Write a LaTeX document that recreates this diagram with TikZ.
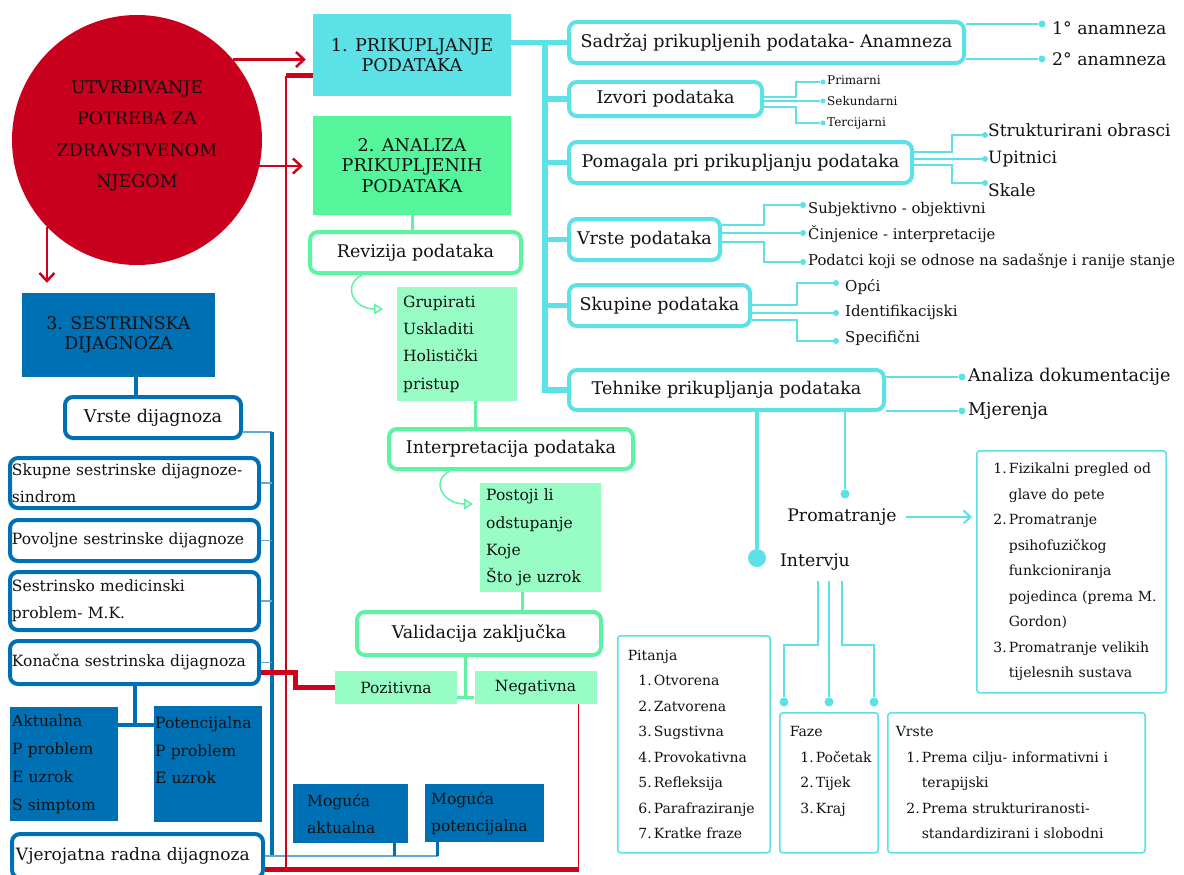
\documentclass[tikz,border=0pt]{standalone}
\usepackage{fontspec}
\setmainfont{DejaVu Serif}
\usetikzlibrary{arrows.meta,calc}

\definecolor{kruzno}{HTML}{C8001E}
\definecolor{crvena}{HTML}{D0021B}
\definecolor{cijan}{HTML}{5CE1E6}
\definecolor{zelena}{HTML}{55F59B}
\definecolor{zelenasvj}{HTML}{98FDC5}
\definecolor{zelenarub}{HTML}{5EF2A3}
\definecolor{plava}{HTML}{0070B4}
\definecolor{plavasvj}{HTML}{62A8DB}

\newcommand{\fsz}[2]{\fontsize{#1}{#2}\selectfont}
\newcommand{\stavka}[2]{\mbox{\makebox[24pt][r]{#1}\kern2pt #2}}
\newcommand{\dalje}[1]{\mbox{\kern26pt #1}}

\tikzset{
  faza/.style={fill=#1, align=center, inner sep=0pt},
  okvir/.style={draw=#1, line width=4pt, rounded corners=8pt, fill=white, inner sep=0pt, font=\fsz{17.5}{21}},
  pbox/.style={okvir=plava, anchor=north west, align=left, inner xsep=2pt, inner ysep=0pt, font=\fsz{15.5}{27}},
  pfill/.style={fill=plava, anchor=north west, align=left, inner xsep=2pt, inner ysep=0pt, font=\fsz{15.5}{27.7}},
  zfill/.style={fill=zelenasvj, anchor=north west, align=left, inner xsep=6pt, inner ysep=0pt, font=\fsz{15.5}{27.3}},
  lbox/.style={draw=cijan, line width=1.6pt, rounded corners=3pt, anchor=north west, align=left, inner ysep=0pt, font=\fsz{14}{25.5}},
  tocka/.style={circle, fill=cijan, inner sep=0pt, minimum size=#1},
  tocka/.default=5pt,
  crtaC/.style={draw=cijan, line width=#1},
  crtaC/.default=1.5pt,
  crtaZ/.style={draw=zelenarub, line width=3pt},
  crtaP/.style={draw=plava, line width=4pt},
  tanaP/.style={draw=plavasvj, line width=1.2pt},
  strelica/.style={draw=crvena, line width=2.5pt, -{Straight Barb[length=8pt,width=15pt]}},
  zavoj/.style={draw=zelenarub, line width=1.5pt, -{Triangle[open,length=9pt,width=11pt]}},
  mali/.style={anchor=west, inner sep=0pt, font=\fsz{#1}{#1}},
}

\begin{document}
\begin{tikzpicture}[x=1pt, y=-1pt, text=black!93]
\fill[white] (0,0) rectangle (1184,875);
\useasboundingbox (0,0) rectangle (1184,875);

% faze procesa
\node[circle, fill=kruzno, minimum size=250pt, inner sep=0pt, align=center, text depth=12pt, font=\fsz{17.5}{31.5}] (krug) at (137,140) {UTVRĐIVANJE\\POTREBA ZA\\ZDRAVSTVENOM\\NJEGOM};
\node[faza=cijan, minimum width=198pt, minimum height=82pt, font=\fsz{17.6}{20}] (prik) at (412,55) {1. PRIKUPLJANJE\\PODATAKA};
\node[faza=zelena, minimum width=198pt, minimum height=99pt, font=\fsz{17.6}{20.5}] (anal) at (412,165.5) {2. ANALIZA\\PRIKUPLJENIH\\PODATAKA};
\node[faza=plava, minimum width=193pt, minimum height=84pt, font=\fsz{17.4}{20}] (sest) at (118.5,335) {3. SESTRINSKA\\DIJAGNOZA};

\draw[strelica, shorten >=7pt] (krug.40) -- (krug.40 -| prik.west);
\draw[strelica, shorten >=10pt] (krug.-12) -- (krug.-12 -| anal.west);
\draw[strelica, shorten >=10pt] (krug.224) -- (krug.224 |- sest.north);

% prikupljanje
\node[okvir=cijan, minimum width=395pt, minimum height=41pt] (sadrzaj) at (766.5,42.5) {Sadržaj prikupljenih podataka- Anamneza};
\node[okvir=cijan, minimum width=193pt, minimum height=34pt] (izvori) at (665.5,99) {Izvori podataka};
\node[okvir=cijan, minimum width=343pt, minimum height=41pt] (pomag) at (740.5,162.5) {Pomagala pri prikupljanju podataka};
\node[okvir=cijan, minimum width=151pt, minimum height=41pt] (vrstep) at (644.5,239.5) {Vrste podataka};
\node[okvir=cijan, minimum width=181pt, minimum height=41pt] (skupin) at (659.5,305.5) {Skupine podataka};
\node[okvir=cijan, minimum width=315pt, minimum height=40pt] (tehnik) at (726.5,390) {Tehnike prikupljanja podataka};

\coordinate (ct) at ($(sadrzaj.west)+(-22,0)$);
\draw[crtaC=5.5pt] (prik.east |- sadrzaj.west) -- (sadrzaj.west);
\draw[crtaC=5.5pt] (ct) |- (tehnik.west);
\foreach \c in {izvori,pomag,vrstep,skupin}
  \draw[crtaC=5.5pt] (\c.west -| ct) -- (\c.west);

\node[tocka=7pt] (a1) at (1042,24) {};
\node[tocka=7pt] (a2) at (1042,59) {};
\node[mali=17.3] (a1t) at (1052,28) {1° anamneza};
\node[mali=17.3] (a2t) at (1052,59) {2° anamneza};
\draw[crtaC=2pt] (sadrzaj.east |- a1) -- (a1);
\draw[crtaC=2pt] (sadrzaj.east |- a2) -- (a2);

\node[tocka] (i1) at (823,82) {};
\node[tocka] (i2) at (823,101) {};
\node[tocka] (i3) at (823,123) {};
\node[mali=12] (i1t) at (827,80) {Primarni};
\node[mali=12] (i2t) at (827,101) {Sekundarni};
\node[mali=12] (i3t) at (827,123) {Tercijarni};
\draw[crtaC] ($(izvori.east)+(0,-2)$) -- ++(32,0) |- (i1);
\draw[crtaC] (izvori.east |- i2) -- (i2);
\draw[crtaC] ($(izvori.east)+(0,8)$) -- ++(32,0) |- (i3);

\node[tocka=6pt] (p1) at (985,135) {};
\node[tocka=6pt] (p2) at (985,159) {};
\node[tocka=6pt] (p3) at (985,183) {};
\node[mali=17] (p1t) at (988,130) {Strukturirani obrasci};
\node[mali=17] (p2t) at (988,159) {Upitnici};
\node[mali=17] (p3t) at (988,190) {Skale};
\draw[crtaC=2pt] ($(pomag.east)+(0,-10.5)$) -- ++(38,0) |- (p1);
\draw[crtaC=2pt] (pomag.east |- p2) -- (p2);
\draw[crtaC=2pt] ($(pomag.east)+(0,2.5)$) -- ++(38,0) |- (p3);

\node[tocka=6pt] (v1) at (803,205) {};
\node[tocka=6pt] (v2) at (803,233) {};
\node[tocka=6pt] (v3) at (803,262) {};
\node[mali=14.8] (v1t) at (808,210) {Subjektivno - objektivni};
\node[mali=14.8] (v2t) at (808,234) {Činjenice - interpretacije};
\node[mali=14.8] (v3t) at (808,261) {Podatci koji se odnose na sadašnje i ranije stanje};
\draw[crtaC=2pt] ($(vrstep.east)+(0,-14.5)$) -- ++(42,0) |- (v1);
\draw[crtaC=2pt] (vrstep.east |- v2) -- (v2);
\draw[crtaC=2pt] ($(vrstep.east)+(0,2.5)$) -- ++(42,0) |- (v3);

\node[tocka=6pt] (s1) at (836,283) {};
\node[tocka=6pt] (s2) at (836,313) {};
\node[tocka=6pt] (s3) at (836,341) {};
\node[mali=15] (s1t) at (845,287) {Opći};
\node[mali=15] (s2t) at (845,312) {Identifikacijski};
\node[mali=15] (s3t) at (845,338) {Specifični};
\draw[crtaC=2pt] ($(skupin.east)+(0,-0.5)$) -- ++(45,0) |- (s1);
\draw[crtaC=2pt] (skupin.east |- s2) -- (s2);
\draw[crtaC=2pt] ($(skupin.east)+(0,14.5)$) -- ++(45,0) |- (s3);

\node[tocka=7pt] (t1) at (962,377) {};
\node[tocka=7pt] (t2) at (962,411) {};
\node[mali=17.6] (t1t) at (968,377) {Analiza dokumentacije};
\node[mali=17.6] (t2t) at (968,411) {Mjerenja};
\draw[crtaC=2pt] (tehnik.east |- t1) -- (t1);
\draw[crtaC=2pt] (tehnik.east |- t2) -- (t2);

% tehnike
\node[tocka=18pt] (intd) at (757,558) {};
\node[tocka=9pt] (promd) at (845,494) {};
\draw[crtaC=3.5pt] (tehnik.south -| intd) -- (intd);
\draw[crtaC=2.5pt] (tehnik.south -| promd) -- (promd);
\node[font=\fsz{17.3}{20}] (promat) at (842,517) {Promatranje};
\node[font=\fsz{17.3}{20}] (interv) at (815,562) {Intervju};

\node[lbox, text width=177.4pt, inner xsep=6pt, minimum height=242pt] (fiz) at (976,450) {\stavka{1.}{Fizikalni pregled od}\\ \dalje{glave do pete}\\ \stavka{2.}{Promatranje}\\ \dalje{psihofuzičkog}\\ \dalje{funkcioniranja}\\ \dalje{pojedinca (prema M.}\\ \dalje{Gordon)}\\ \stavka{3.}{Promatranje velikih}\\ \dalje{tijelesnih sustava}};
\draw[crtaC=2pt, -{Straight Barb[length=7pt,width=13pt]}, shorten <=6pt, shorten >=4pt] (promat.east) -- (promat.east -| fiz.west);

\node[tocka=9pt] (f1) at (784,702) {};
\node[tocka=9pt] (f2) at (829,702) {};
\node[tocka=9pt] (f3) at (874,702) {};
\draw[crtaC=2.5pt] ([shift={(3,7)}]interv.south) -- ++(0,64) -| (f1);
\draw[crtaC=2.5pt] ([shift={(14,7)}]interv.south) -- (f2);
\draw[crtaC=2.5pt] ([shift={(27,7)}]interv.south) -- ++(0,64) -| (f3);

\node[lbox, text width=132.4pt, inner xsep=10pt, minimum height=217pt] (pitanja) at (617,635) {Pitanja\\ \stavka{1.}{Otvorena}\\ \stavka{2.}{Zatvorena}\\ \stavka{3.}{Sugstivna}\\ \stavka{4.}{Provokativna}\\ \stavka{5.}{Refleksija}\\ \stavka{6.}{Parafraziranje}\\ \stavka{7.}{Kratke fraze}};
\node[lbox, text width=78.4pt, inner xsep=10pt, minimum height=140pt] (faze) at (779,712) {Faze\\ \stavka{1.}{Početak}\\ \stavka{2.}{Tijek}\\ \stavka{3.}{Kraj}\\ \mbox{}};
\node[lbox, text width=241.4pt, inner xsep=8pt, minimum height=140pt] (vrstei) at (887,712) {Vrste\\ \stavka{1.}{Prema cilju- informativni i}\\ \dalje{terapijski}\\ \stavka{2.}{Prema strukturiranosti-}\\ \dalje{standardizirani i slobodni}};

% analiza
\node[okvir=zelenarub, minimum width=211pt, minimum height=41pt] (reviz) at (415.5,252.5) {Revizija podataka};
\node[zfill, text width=108pt, minimum height=114pt] (grup) at (397,287) {Grupirati\\Uskladiti\\Holistički\\pristup};
\node[okvir=zelenarub, minimum width=244pt, minimum height=40pt] (interp) at (511,449) {Interpretacija podataka};
\node[zfill, text width=109pt, minimum height=109pt] (post) at (480,483) {Postoji li\\odstupanje\\Koje\\Što je uzrok};
\node[okvir=zelenarub, minimum width=244pt, minimum height=43pt] (valid) at (479,633.5) {Validacija zaključka};
\node[faza=zelenasvj, minimum width=122pt, minimum height=33pt, font=\fsz{15.5}{18}] (poz) at (396,687.5) {Pozitivna};
\node[faza=zelenasvj, minimum width=122pt, minimum height=33pt, font=\fsz{15.5}{18}] (neg) at (535.5,687.5) {Negativna};

\draw[crtaZ] (anal.south) -- (anal.south |- reviz.north);
\draw[crtaZ] ([xshift=18pt]grup.south) -- ([xshift=18pt]grup.south |- interp.north);
\draw[crtaZ] ([xshift=-18.5pt]post.south) -- ([xshift=-18.5pt]post.south |- valid.north);
\draw[zavoj] ([xshift=-53.5pt]reviz.south) .. controls +(-20,10) and +(-30,0) .. ($(grup.north west)+(-14,22)$);
\draw[zavoj] ([xshift=-61pt]interp.south) .. controls +(-20,10) and +(-30,0) .. ($(post.north west)+(-7,21)$);
\coordinate (pn) at ($(poz.south east)!0.5!(neg.south west)+(0,-7)$);
\draw[crtaZ] (valid.south -| pn) -- (pn);
\draw[crtaZ] (poz.east |- pn) -- (neg.west |- pn);

% dijagnoza
\node[okvir=plava, minimum width=176pt, minimum height=41pt] (vrsted) at (153,417.5) {Vrste dijagnoza};
\node[pbox, text width=245pt, minimum height=50pt] (skupne) at (8,456) {Skupne sestrinske dijagnoze-\\sindrom};
\node[pbox, text width=245pt, minimum height=41pt] (povolj) at (8,518) {Povoljne sestrinske dijagnoze};
\node[pbox, text width=245pt, minimum height=58pt] (sestmed) at (8,570) {Sestrinsko medicinski\\problem- M.K.};
\node[pbox, text width=245pt, minimum height=43pt] (konac) at (8,639) {Konačna sestrinska dijagnoza};
\node[pfill, text width=104pt, minimum height=114pt] (aktual) at (10,707) {Aktualna\\P problem\\E uzrok\\S simptom};
\node[pfill, text width=106pt, inner xsep=1pt, minimum height=116pt] (potenc) at (154,706) {Potencijalna\\P problem\\E uzrok\\ \mbox{}};
\node[pbox, text width=243pt, inner xsep=4pt, minimum height=44pt, font=\fsz{17}{20}] (vjer) at (10,832) {Vjerojatna radna dijagnoza};
\node[pfill, text width=87pt, inner xsep=14pt, minimum height=59pt, font=\fsz{15.5}{27}] (mogakt) at (293,784) {Moguća\\aktualna};
\node[pfill, text width=107pt, inner xsep=6pt, minimum height=58pt, font=\fsz{15.5}{27}] (mogpot) at (425,784) {Moguća\\potencijalna};

\draw[crtaP] ([xshift=17.5pt]sest.south) -- ([xshift=17.5pt]sest.south |- vrsted.north);
\coordinate (bv) at ($(vrsted.east)+(29,14.5)$);
\draw[tanaP] (vrsted.east |- bv) -- (bv);
\draw[crtaP] (bv) -- (bv |- vjer.east);
\foreach \b in {skupne,povolj,sestmed,konac}
  \draw[tanaP] (\b.east) -- (\b.east -| bv);
\coordinate (ap) at ($(aktual.north east)+(0,18)$);
\draw[crtaP] (konac.south) -- (konac.south |- ap);
\draw[crtaP] (ap) -- (ap -| potenc.west);
\draw[tanaP] (vjer.east) -- ([xshift=-47pt]mogpot.south |- vjer.east);
\draw[plava, line width=2.5pt] ([xshift=44pt]mogakt.south) -- ([xshift=44pt]mogakt.south |- vjer.east);
\draw[plava, line width=2.5pt] ([xshift=-47pt]mogpot.south) -- ([xshift=-47pt]mogpot.south |- vjer.east);

% povratne veze
\coordinate (rg) at ($(prik.west)+(-27,21)$);
\coordinate (rd) at ($(neg.south east)+(-18,165)$);
\draw[crvena, line width=5pt] (rg) -- (rg -| prik.west);
\draw[crvena, line width=1.5pt] (rg) -- (rg |- rd);
\draw[crvena, line width=1.5pt] (neg.south east -| rd) -- (rd);
\draw[crvena, line width=5pt] (vjer.east |- rd) -- (rd);
\draw[crvena, line width=5pt] ($(konac.east)+(0,10)$) -- ++(34,0) |- (poz.west);
\end{tikzpicture}
\end{document}
